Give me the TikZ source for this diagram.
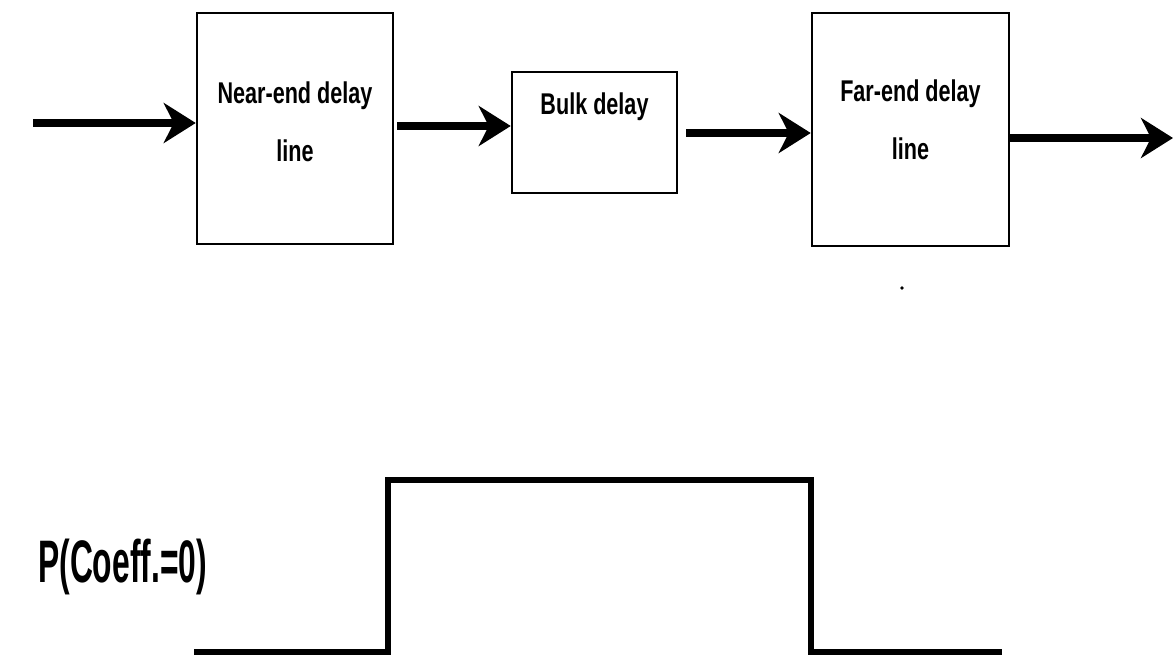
\documentclass[tikz,border=0pt]{standalone}
\usepackage{fontspec}
\newfontfamily\blocklabelfont{Liberation Sans}[FakeStretch=0.72]
\newfontfamily\plotlabelfont{Liberation Sans}[FakeStretch=0.53]
\usetikzlibrary{arrows.meta}
\begin{document}
\begin{tikzpicture}[x=1pt,y=-1pt,
  blockbox/.style={draw, line width=2.5pt, inner sep=0pt},
  flow/.style={line width=8pt, -{Stealth[length=32pt,width=40pt,inset=10pt]}},
  blocktext/.style={font=\blocklabelfont\bfseries\fontsize{30}{58}\selectfont,
    align=center, inner sep=0pt},
  pulse/.style={line width=6pt, line join=miter}]
  \useasboundingbox (0,0) rectangle (1174,659);

  % processing chain
  \node[blockbox, minimum width=196pt, minimum height=231pt] (near) at (295,128.5) {};
  \node[blockbox, minimum width=165pt, minimum height=121pt] (bulk) at (594.5,132.5) {};
  \node[blockbox, minimum width=197pt, minimum height=233pt] (far) at (910.5,129.5) {};

  \node[blocktext, anchor=north] (nearlbl) at (295,82) {Near-end delay\\line};
  \node[blocktext, anchor=north] (bulklbl) at (594.5,93) {Bulk delay};
  \node[blocktext, anchor=north] (farlbl) at (910.5,80) {Far-end delay\\line};

  % signal flow
  \coordinate (src) at (33,123);
  \coordinate (a1s) at ([shift={(3,-2.5)}]near.east);
  \coordinate (a2s) at ([shift={(8,0.5)}]bulk.east);
  \coordinate (a3s) at ([shift={(0,8.5)}]far.east);
  \coordinate (sink) at (1173,138);
  \draw[flow] (src) -- (src -| near.west);
  \draw[flow] (a1s) -- (a1s -| bulk.west);
  \draw[flow] (a2s) -- (a2s -| far.west);
  \draw[flow] (a3s) -- (sink);

  \fill (902,288) circle (1.8);

  % probability of a zero coefficient
  \node[font=\plotlabelfont\bfseries\fontsize{60}{60}\selectfont, anchor=base west,
    inner sep=0pt] (plbl) at (38,582) {P(Coeff.=0)};
  \coordinate (p0) at (194,652);
  \coordinate (p1) at (388,652);
  \coordinate (p2) at (388,480);
  \coordinate (p3) at (811,480);
  \coordinate (p4) at (811,652);
  \coordinate (p5) at (1002,652);
  \draw[pulse] (p0) -- (p1) -- (p2) -- (p3) -- (p4) -- (p5);
\end{tikzpicture}
\end{document}
